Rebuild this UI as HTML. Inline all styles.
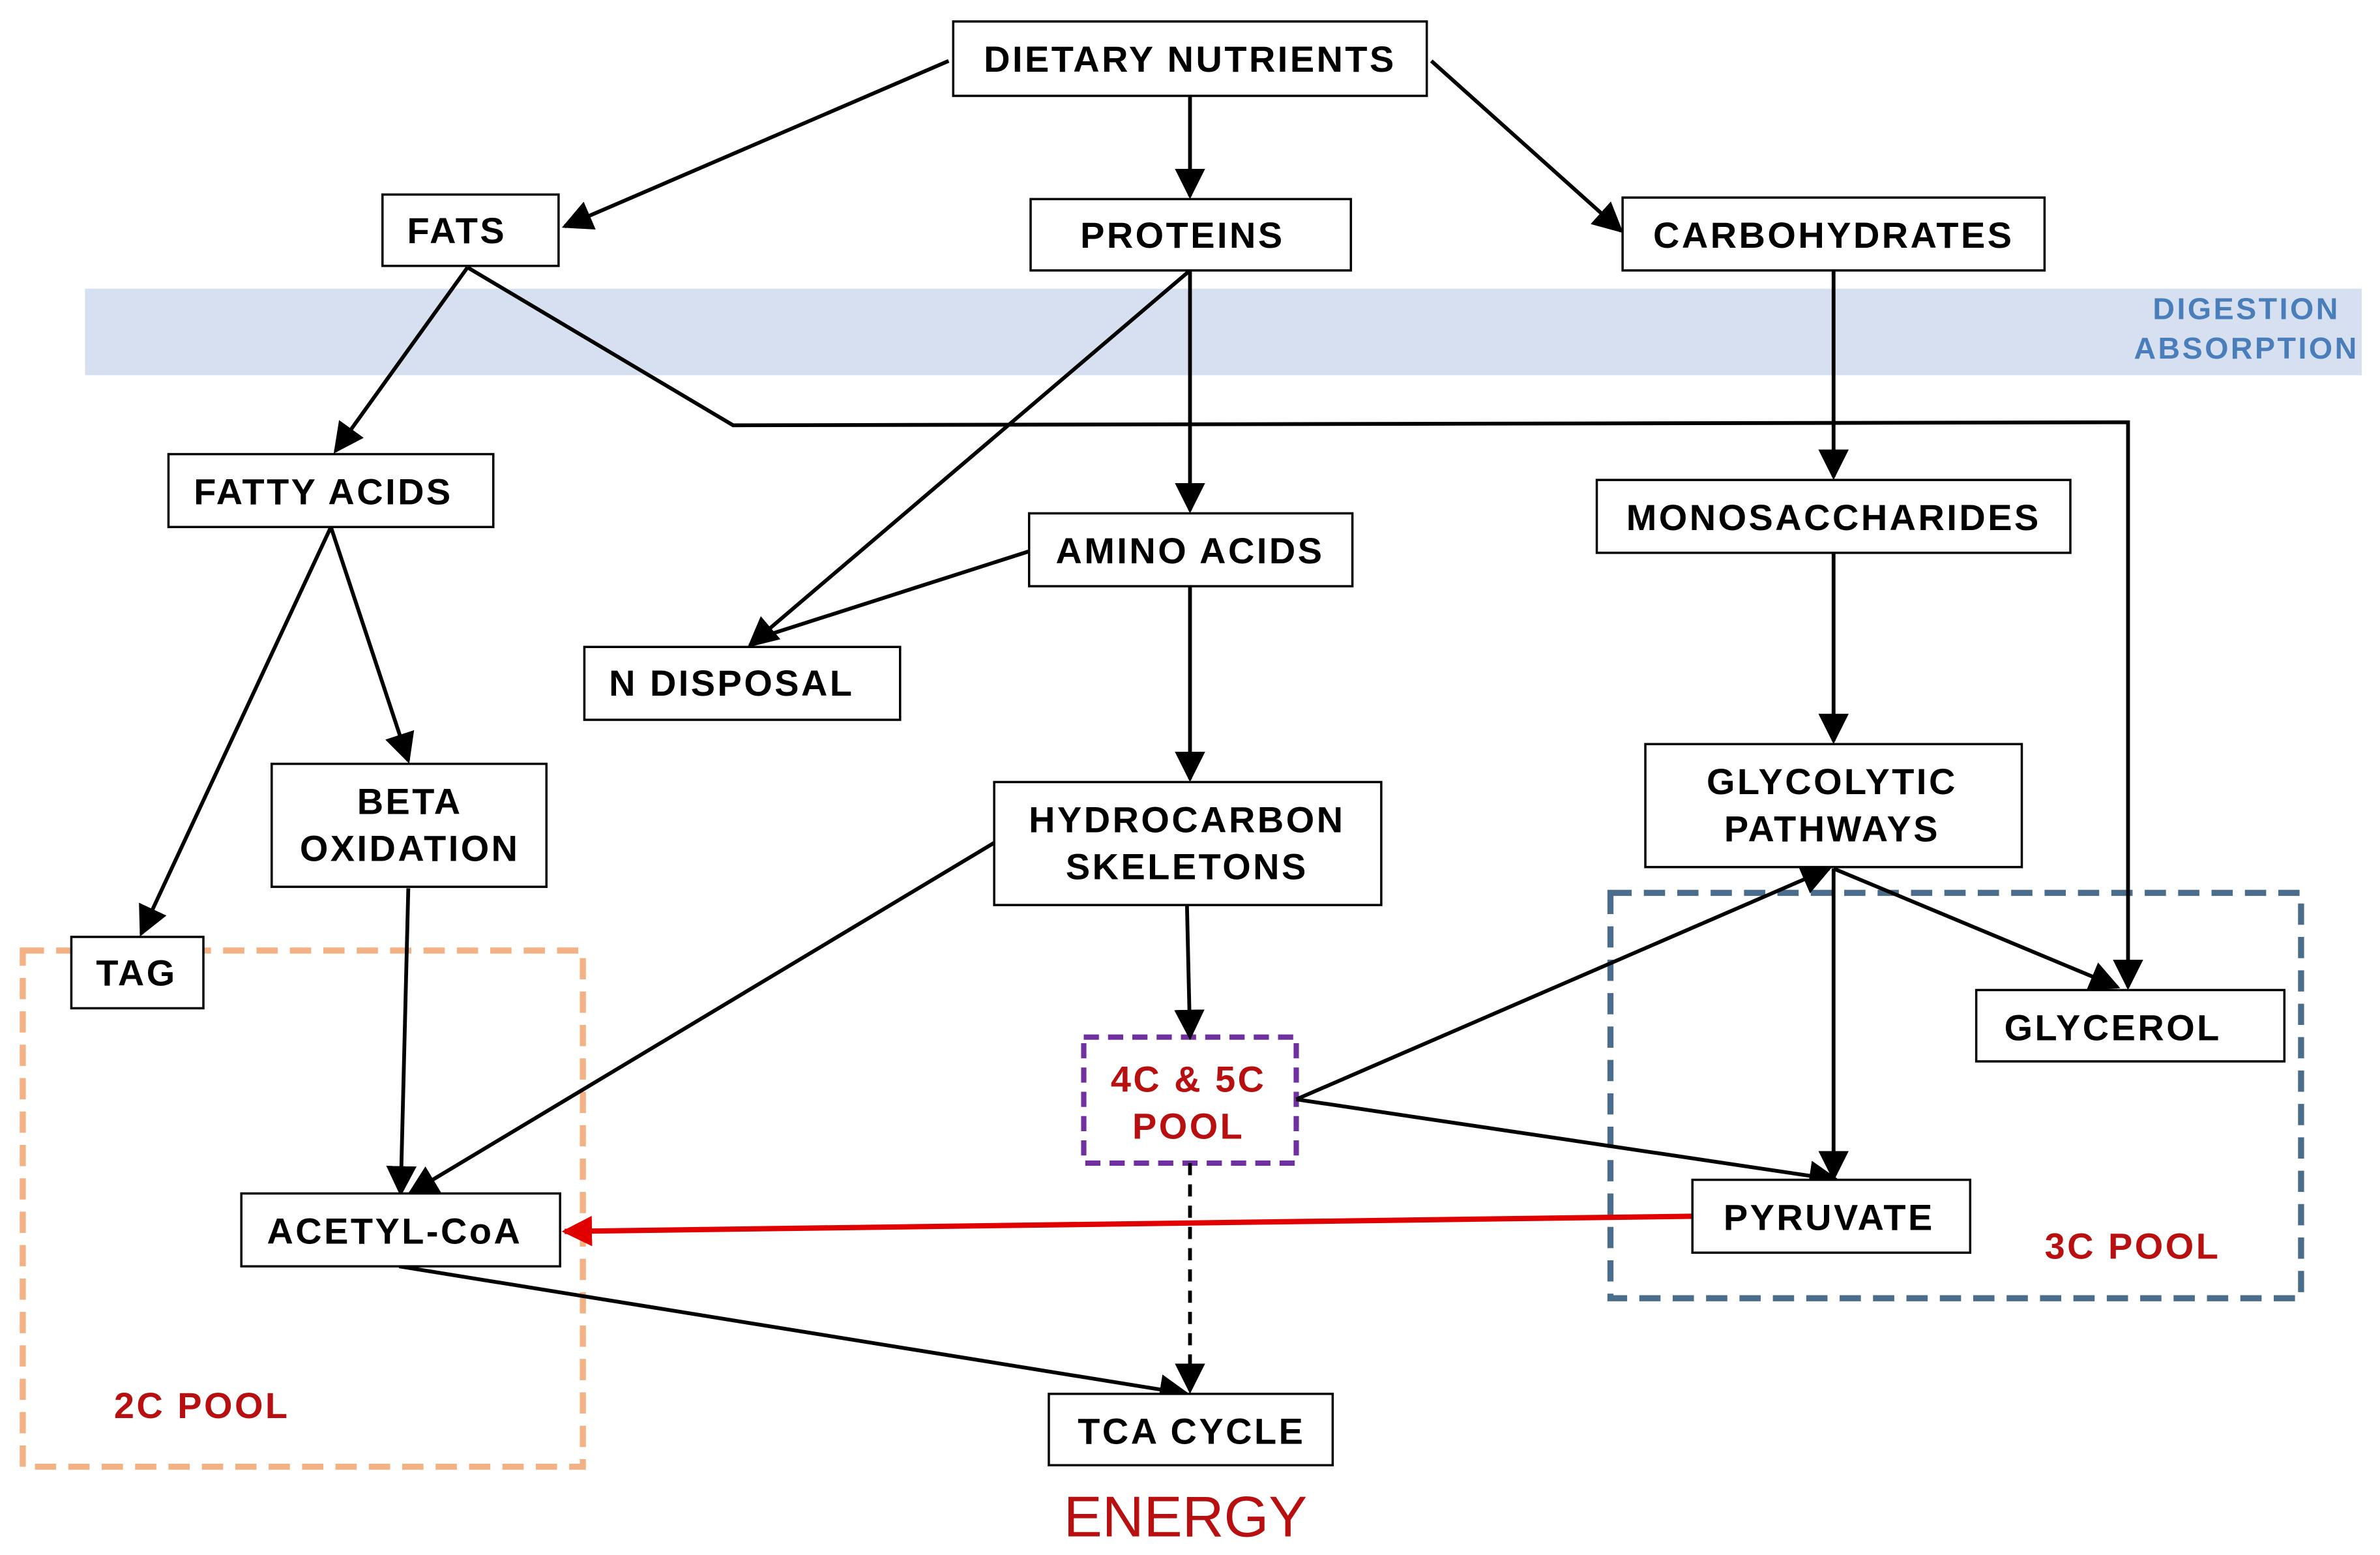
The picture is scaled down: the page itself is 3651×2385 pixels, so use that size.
<!DOCTYPE html>
<html><head><meta charset="utf-8"><style>
html,body{margin:0;padding:0;background:#fff;}
svg{display:block;}
text{font-family:"Liberation Sans",Arial,sans-serif;font-weight:bold;}
</style></head><body>
<svg width="3651" height="2385" viewBox="0 0 1568 1024" xmlns="http://www.w3.org/2000/svg">
<defs>
<marker id="ab" viewBox="0 0 10 10" refX="9" refY="5" markerWidth="20" markerHeight="20" markerUnits="userSpaceOnUse" orient="auto"><path d="M0,0L10,5L0,10z" fill="#000"/></marker>
<marker id="r" viewBox="0 0 10 10" refX="9" refY="5" markerWidth="20" markerHeight="20" markerUnits="userSpaceOnUse" orient="auto"><path d="M0,0L10,5L0,10z" fill="#e00000"/></marker>
</defs>
<rect width="1568" height="1024" fill="#fff"/>
<rect x="56" y="190" width="1500" height="57" fill="#d6e0f0"/>
<text x="1480" y="210" fill="#4a7ebb" font-size="20" text-anchor="middle" letter-spacing="1.5">DIGESTION</text>
<text x="1480" y="236" fill="#4a7ebb" font-size="20" text-anchor="middle" letter-spacing="1.5">ABSORPTION</text>

<rect x="15" y="626" width="369" height="340" fill="none" stroke="#f4b183" stroke-width="4" stroke-dasharray="14,8"/>
<rect x="1061" y="588" width="455" height="267" fill="none" stroke="#4a6d8c" stroke-width="4" stroke-dasharray="14,8"/>
<rect x="714" y="683" width="140" height="83" fill="none" stroke="#7030a0" stroke-width="3.5" stroke-dasharray="10,6"/>

<g stroke="#000" stroke-width="2.5" fill="none">
<line x1="625" y1="40" x2="372" y2="149" marker-end="url(#ab)"/>
<line x1="784" y1="63" x2="784" y2="129" marker-end="url(#ab)"/>
<line x1="943" y1="40" x2="1068" y2="152" marker-end="url(#ab)"/>
<line x1="308" y1="176" x2="221" y2="297" marker-end="url(#ab)"/>
<polyline points="308,176 483,280 1402,278 1402,650" marker-end="url(#ab)"/>
<line x1="784" y1="178" x2="494" y2="425" marker-end="url(#ab)"/>
<line x1="784" y1="178" x2="784" y2="336" marker-end="url(#ab)"/>
<line x1="678" y1="363" x2="500" y2="420"/>
<line x1="1208" y1="178" x2="1208" y2="314" marker-end="url(#ab)"/>
<line x1="1208" y1="364" x2="1208" y2="488" marker-end="url(#ab)"/>
<line x1="218" y1="347" x2="93" y2="615" marker-end="url(#ab)"/>
<line x1="218" y1="347" x2="269" y2="501" marker-end="url(#ab)"/>
<line x1="784" y1="386" x2="784" y2="513" marker-end="url(#ab)"/>
<line x1="269" y1="585" x2="264" y2="786" marker-end="url(#ab)"/>
<line x1="655" y1="555" x2="270" y2="786" marker-end="url(#ab)"/>
<line x1="782" y1="596" x2="784" y2="683" marker-end="url(#ab)"/>
<line x1="854" y1="724" x2="1205" y2="572" marker-end="url(#ab)"/>
<line x1="854" y1="724" x2="1210" y2="777" marker-end="url(#ab)"/>
<line x1="1208" y1="572" x2="1208" y2="776" marker-end="url(#ab)"/>
<line x1="1208" y1="572" x2="1395" y2="650" marker-end="url(#ab)"/>
<line x1="784" y1="766" x2="784" y2="916" stroke-dasharray="8,6" marker-end="url(#ab)"/>
<line x1="263" y1="834" x2="782" y2="918" marker-end="url(#ab)"/>
</g>
<line x1="1115" y1="801" x2="372" y2="811" stroke="#e00000" stroke-width="3.5" marker-end="url(#r)"/>

<g fill="#fff" stroke="#000" stroke-width="1.5">
<rect x="628" y="14" width="312" height="49"/>
<rect x="252" y="128" width="116" height="47"/>
<rect x="679" y="131" width="211" height="47"/>
<rect x="1069" y="130" width="278" height="48"/>
<rect x="111" y="299" width="214" height="48"/>
<rect x="678" y="338" width="213" height="48"/>
<rect x="1052" y="316" width="312" height="48"/>
<rect x="385" y="426" width="208" height="48"/>
<rect x="179" y="503" width="181" height="81"/>
<rect x="655" y="515" width="255" height="81"/>
<rect x="1084" y="490" width="248" height="81"/>
<rect x="47" y="617" width="87" height="47"/>
<rect x="1302" y="652" width="203" height="47"/>
<rect x="159" y="786" width="210" height="48"/>
<rect x="1115" y="777" width="183" height="48"/>
<rect x="691" y="918" width="187" height="47"/>
</g>

<g font-size="24" text-anchor="middle" fill="#000" letter-spacing="1.5">
<text x="784" y="47">DIETARY NUTRIENTS</text>
<text x="301" y="160">FATS</text>
<text x="779" y="163">PROTEINS</text>
<text x="1208" y="163">CARBOHYDRATES</text>
<text x="213" y="332">FATTY ACIDS</text>
<text x="784" y="371">AMINO ACIDS</text>
<text x="1208" y="349">MONOSACCHARIDES</text>
<text x="482" y="458">N DISPOSAL</text>
<text x="270" y="536">BETA</text>
<text x="270" y="567">OXIDATION</text>
<text x="782" y="548">HYDROCARBON</text>
<text x="782" y="579">SKELETONS</text>
<text x="1207" y="523">GLYCOLYTIC</text>
<text x="1207" y="554">PATHWAYS</text>
<text x="90" y="649">TAG</text>
<text x="1392" y="685">GLYCEROL</text>
<text x="260" y="819">ACETYL-CoA</text>
<text x="1205" y="810">PYRUVATE</text>
<text x="785" y="951">TCA CYCLE</text>
</g>
<g font-size="24" text-anchor="middle" fill="#b81010" letter-spacing="1.5">
<text x="783" y="719">4C &amp; 5C</text>
<text x="783" y="750">POOL</text>
<text x="133" y="934">2C POOL</text>
<text x="1405" y="829">3C POOL</text>
</g>
<text x="781" y="1012" font-size="38" text-anchor="middle" fill="#b81010" style="font-weight:normal">ENERGY</text>
</svg>
</body></html>
